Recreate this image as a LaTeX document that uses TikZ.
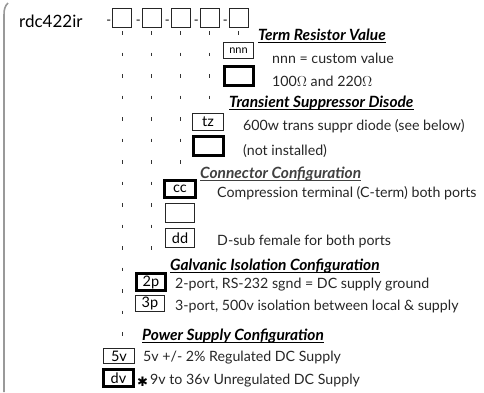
\documentclass[tikz,border=0pt]{standalone}
\usepackage{fontspec}
\setmainfont{Lato}
\newfontfamily\symfont{DejaVu Sans}
\begin{document}
\begin{tikzpicture}[x=1pt,y=-1pt,
  topbox/.style={draw=black!85, line width=1pt, inner sep=0pt, minimum width=19pt, minimum height=19pt},
  optbox/.style={draw=black!85, line width=0.9pt, inner sep=0pt, font=\fontsize{14.5}{14.5}\selectfont},
  thickbox/.style={draw=black, line width=2.8pt, inner sep=0pt, font=\fontsize{14.5}{14.5}\selectfont},
  txt/.style={anchor=base west, inner sep=0pt, text=black!85, font=\fontsize{14.2}{14.2}\selectfont},
  hdr/.style={anchor=base west, inner sep=0pt, text=black, font=\fontsize{15.5}{15.5}\selectfont\bfseries\itshape},
  uline/.style={draw=black, line width=1pt},
  dots/.style={draw=black!80, line width=0.9pt, dash pattern=on 3.5pt off 18pt, dash phase=18.5pt},
  frame/.style={draw=black!40, line width=1.6pt},
]
\useasboundingbox (0,0) rectangle (484,392);
% frame
\draw[frame] (4,392) -- (4,15) .. controls (4,9) and (5,6) .. (8,3);
% part number
\node[txt, text=black, font=\fontsize{17}{17}\selectfont] (pn) at (19,27) {rdc422ir};
\foreach \i/\x in {1/122,2/151.5,3/180.5,4/209.5,5/238.5}{
  \node[topbox] (t\i) at (\x,18) {};
  \node[anchor=base east, inner sep=0pt, font=\fontsize{13}{13}\selectfont] (h\i) at ([xshift=-0.5pt]t\i.west |- 0,24) {-};
}
% dotted connectors
\coordinate (e1) at (122,340);
\coordinate (e2) at (151.5,260);
\coordinate (e3) at (180.5,166);
\coordinate (e4) at (209.5,102);
\coordinate (e5) at (238.5,38);
\foreach \i in {1,...,5}{ \draw[dots] (t\i.south) -- (e\i); }
% Term resistor
\node[hdr] (hTR) at (258,40) {Term Resistor Value};
\draw[uline] ([yshift=-2pt]hTR.base west) -- ([yshift=-2pt]hTR.base east);
\node[optbox, minimum width=30pt, minimum height=16pt, font=\fontsize{11}{11}\selectfont] (bnnn) at (238.5,50.5) {nnn};
\node[txt] (tnnn) at (272,63) {nnn = custom value};
\node[thickbox, minimum width=29.2pt, minimum height=19.2pt] (b100) at (239,76) {};
\node[txt] (t100) at (272,86) {100$\Omega$ and 220$\Omega$};
% Transient suppressor
\node[hdr] (hTS) at (229,107) {Transient Suppressor Disode};
\draw[uline] ([yshift=-2pt]hTS.base west) -- ([yshift=-2pt]hTS.base east);
\node[optbox, minimum width=31pt, minimum height=17pt] (btz) at (208,122) {tz};
\node[txt] (ttz) at (243,130) {600w trans suppr diode (see below)};
\node[thickbox, minimum width=30.2pt, minimum height=19.2pt] (bni) at (208.5,146) {};
\node[txt] (tni) at (243,155) {(not installed)};
% Connector
\node[hdr, text=black!75] (hCC) at (200,178) {Connector Configuration};
\draw[uline, draw=black!75] ([yshift=-2pt]hCC.base west) -- ([yshift=-2pt]hCC.base east);
\node[thickbox, minimum width=31.2pt, minimum height=17.2pt] (bcc) at (180,189) {cc};
\node[txt] (tcc) at (217,197) {Compression terminal (C-term) both ports};
\node[optbox, minimum width=29pt, minimum height=19pt] (bem) at (180,213) {};
\node[optbox, minimum width=29pt, minimum height=19pt] (bdd) at (180,238) {dd};
\node[txt] (tdd) at (217,245) {D-sub female for both ports};
% Galvanic
\node[hdr] (hGI) at (170,270) {Galvanic Isolation Configuration};
\draw[uline] ([yshift=-2pt]hGI.base west) -- ([yshift=-2pt]hGI.base east);
\node[thickbox, minimum width=29.2pt, minimum height=17.2pt] (b2p) at (151,282) {2p};
\node[txt] (t2p) at (175,288) {2-port, RS-232 sgnd = DC supply ground};
\node[optbox, minimum width=29pt, minimum height=16pt] (b3p) at (150,303.5) {3p};
\node[txt] (t3p) at (175,310) {3-port, 500v isolation between local \& supply};
% Power supply
\node[hdr] (hPS) at (142,340) {Power Supply Configuration};
\draw[uline] ([yshift=-2pt]hPS.base west) -- ([yshift=-2pt]hPS.base east);
\node[optbox, minimum width=31pt, minimum height=15pt] (b5v) at (119,356) {5v};
\node[txt] (t5v) at (143,361) {5v +/- 2\% Regulated DC Supply};
\node[thickbox, minimum width=30.2pt, minimum height=17.2pt] (bdv) at (118.5,378) {dv};
\node[txt, text=black, font=\symfont\fontsize{13}{13}\selectfont] (ast) at (137,386) {✱};
\node[txt] (tdv) at (150,384) {9v to 36v Unregulated DC Supply};
\end{tikzpicture}
\end{document}
